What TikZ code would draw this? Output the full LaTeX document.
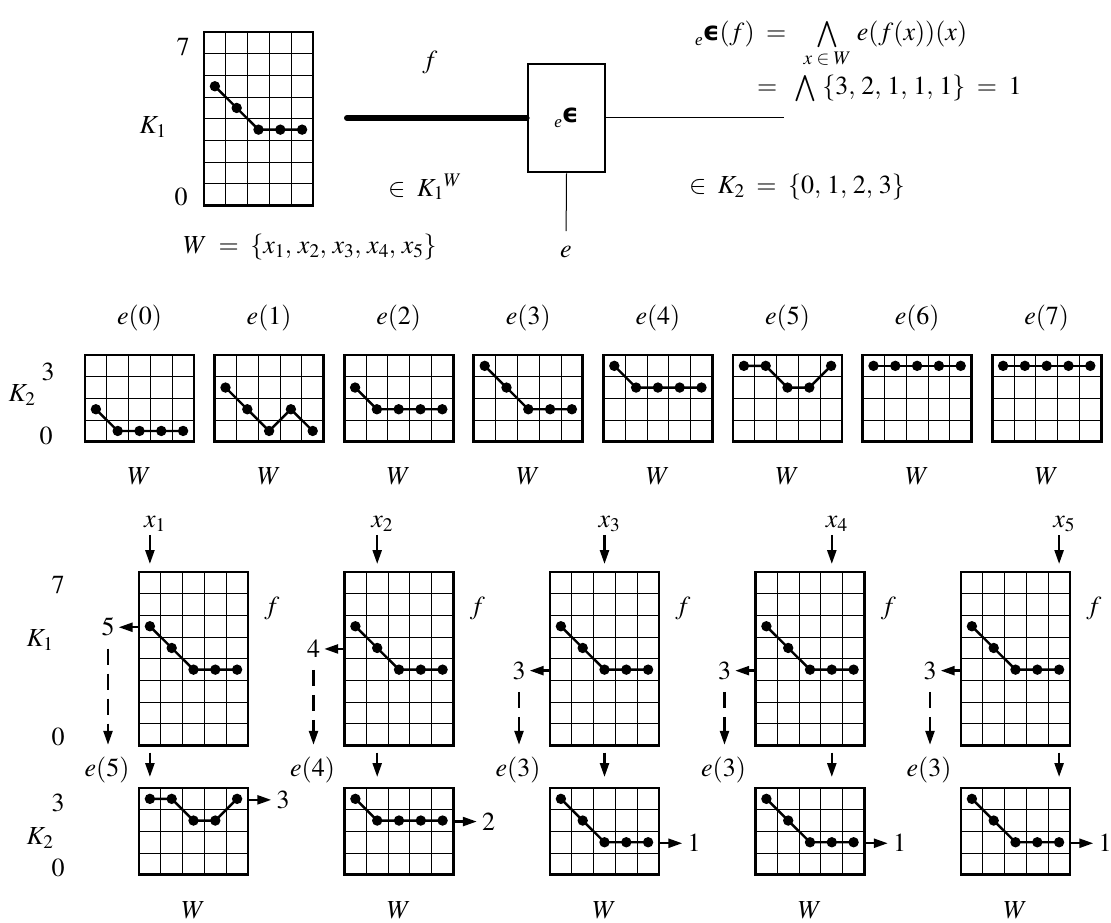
\documentclass[tikz,border=0pt]{standalone}
\usepackage{mathptmx}
\usepackage[no-math]{fontspec}
\setmainfont{Liberation Serif}
\newfontfamily\dejavu{DejaVu Sans}
\usetikzlibrary{arrows.meta}
\tikzset{
  gridline/.style={line width=1pt},
  boxline/.style={line width=2.8pt},
  valline/.style={line width=2.4pt},
  arr/.style={line width=2.4pt,-{Triangle[length=14pt,width=9pt]}},
  darr/.style={arr,dash pattern=on 16pt off 9pt},
  lbl/.style={inner sep=0pt,font=\fontsize{26}{30}\selectfont},
}
\newcommand\epsym{\raisebox{-5pt}{\fontsize{17}{17}\selectfont\itshape e}{\dejavu\bfseries ϵ}}
\newcommand\bigand{\mathop{\vcenter{\hbox{\scalebox{1.12}{$\bigwedge$}}}}}
\newcommand\mychart[9]{%
\begin{scope}[shift={(#2,#3)}]
 \node[inner sep=0pt,outer sep=0pt,minimum width=109pt,minimum height={#4*21.7pt},anchor=north west] (#1) at (0,0) {};
 \foreach \i in {1,2,3,4} \draw[gridline] (\i*21.8,0) -- (\i*21.8,#4*21.7);
 \pgfmathtruncatemacro\nr{#4-1}
 \foreach \j in {1,...,\nr} \draw[gridline] (0,\j*21.7) -- (109,\j*21.7);
 \draw[valline] (10.9,{(#4-#5-0.5)*21.7}) -- (32.7,{(#4-#6-0.5)*21.7}) -- (54.5,{(#4-#7-0.5)*21.7}) -- (76.3,{(#4-#8-0.5)*21.7}) -- (98.1,{(#4-#9-0.5)*21.7});
 \foreach \xx/\vv in {10.9/#5,32.7/#6,54.5/#7,76.3/#8,98.1/#9} \fill (\xx,{(#4-\vv-0.5)*21.7}) circle (5.2);
 \draw[boxline] (#1.north west) rectangle (#1.south east);
\end{scope}}
\newcommand\mybcol[9]{%
 \pgfmathsetmacro\cx{#2+(#1-0.5)*21.8}
 \pgfmathsetmacro\yv{572+(7.5-#3)*21.7}
 \pgfmathsetmacro\yw{788+(3.5-#4)*21.7}
 \mychart{u#1}{#2}{572}{8}{5}{4}{3}{3}{3}
 \mychart{l#1}{#2}{788}{4}{#5}{#6}{#7}{#8}{#9}
 \node[lbl] (xl#1) at ({\cx+5},524) {$x_{#1}$};
 \coordinate (xb#1) at (\cx,564);
 \draw[arr,shorten <=3pt] (xl#1.south -| xb#1) -- (xb#1);
 \node[lbl] (f#1) at ({#2+133},608) {$f$};
 \node[lbl] (v#1) at ({#2-31},{\yv+1}) {$#3$};
 \draw[arr,shorten >=4pt] (v#1 -| u#1.west) -- (v#1.east);
 \node[lbl] (el#1) at ({#2-32},770) {$e(#3)$};
 \draw[darr,shorten <=12pt,shorten >=12pt] (v#1.south) -- (v#1.south |- el#1.north);
 \draw[arr,shorten <=7pt,shorten >=11pt] (u#1.south -| xb#1) -- (l#1.north -| xb#1);
 \node[lbl] (w#1) at ({#2+144},{\yw+1}) {$#4$};
 \draw[arr,shorten >=5pt] (w#1 -| l#1.east) -- (w#1.west);
 \node[lbl] (bw#1) at ({#2+54.5},910) {$W$};
}
\begin{document}
\begin{tikzpicture}[x=1pt,y=-1pt]
\useasboundingbox (0,0) rectangle (1111,923);
% ---------- top ----------
\mychart{g0}{204}{32}{8}{5}{4}{3}{3}{3}
\node[lbl] (t7) at (183,47) {$7$};
\node[lbl] (t0) at (181,197) {$0$};
\node[lbl] (tK) at (153,127) {$K_1$};
\node[lbl] (tW) at (310,247) {$W\;=\;\{x_1,\,x_2,\,x_3,\,x_4,\,x_5\}$};
\node[lbl] (tf) at (430,62) {$f$};
\node[draw,line width=2.8pt,minimum width=77pt,minimum height=108pt,inner sep=0pt,font=\fontsize{26}{30}\selectfont] (box) at (566.5,118) {\epsym};
\coordinate (fs) at (347,118);
\draw[line width=6pt,line cap=round] (fs) -- (box.west);
\node[lbl] (tKW) at (425,187) {$\in\;{K_1}^{W}$};
\node[lbl] (einp) at (566,252) {$e$};
\draw[line width=1pt,shorten >=15pt] (box.south) -- (einp.north);
\coordinate (oe) at (784,118);
\draw[line width=1pt] (box.east) -- (oe);
\node[lbl,anchor=base west] (F1) at (695,41) {\epsym$(f)\;=\;\;\bigand\limits_{x\;\in\;W}\,e(f(x))(x)$};
\node[lbl,anchor=base west] (F2) at (757,95) {$=\;\;\smash{\bigand}\;\{3,\,2,\,1,\,1,\,1\}\;=\;1$};
\node[lbl] (F3) at (797,187) {$\in\;K_2\;=\;\{0,\,1,\,2,\,3\}$};
% ---------- middle ----------
\node[lbl] (m3) at (48,372) {$3$};
\node[lbl] (mK) at (22,395) {$K_2$};
\node[lbl] (m0) at (46,436) {$0$};
\mychart{m0c}{85}{355}{4}{1}{0}{0}{0}{0}
\mychart{m1c}{214.6}{355}{4}{2}{1}{0}{1}{0}
\mychart{m2c}{344.2}{355}{4}{2}{1}{1}{1}{1}
\mychart{m3c}{473.8}{355}{4}{3}{2}{1}{1}{1}
\mychart{m4c}{603.4}{355}{4}{3}{2}{2}{2}{2}
\mychart{m5c}{733}{355}{4}{3}{3}{2}{2}{3}
\mychart{m6c}{862.6}{355}{4}{3}{3}{3}{3}{3}
\mychart{m7c}{992.2}{355}{4}{3}{3}{3}{3}{3}
\foreach \k in {0,...,7} {
  \node[lbl] (me\k) at ({139.5+129.6*\k},318) {$e(\k)$};
  \node[lbl] (mW\k) at ({139.5+129.6*\k},476) {$W$};
}
% ---------- bottom ----------
\node[lbl] (b7) at (58,585) {$7$};
\node[lbl] (bK1) at (40,640) {$K_1$};
\node[lbl] (b0) at (58,737) {$0$};
\node[lbl] (b3) at (58,803) {$3$};
\node[lbl] (bK2) at (40,838) {$K_2$};
\node[lbl] (b0b) at (58,868) {$0$};
\mybcol{1}{139}{5}{3}{3}{3}{2}{2}{3}
\mybcol{2}{344.5}{4}{2}{3}{2}{2}{2}{2}
\mybcol{3}{550}{3}{1}{3}{2}{1}{1}{1}
\mybcol{4}{755.5}{3}{1}{3}{2}{1}{1}{1}
\mybcol{5}{961}{3}{1}{3}{2}{1}{1}{1}
\end{tikzpicture}
\end{document}
